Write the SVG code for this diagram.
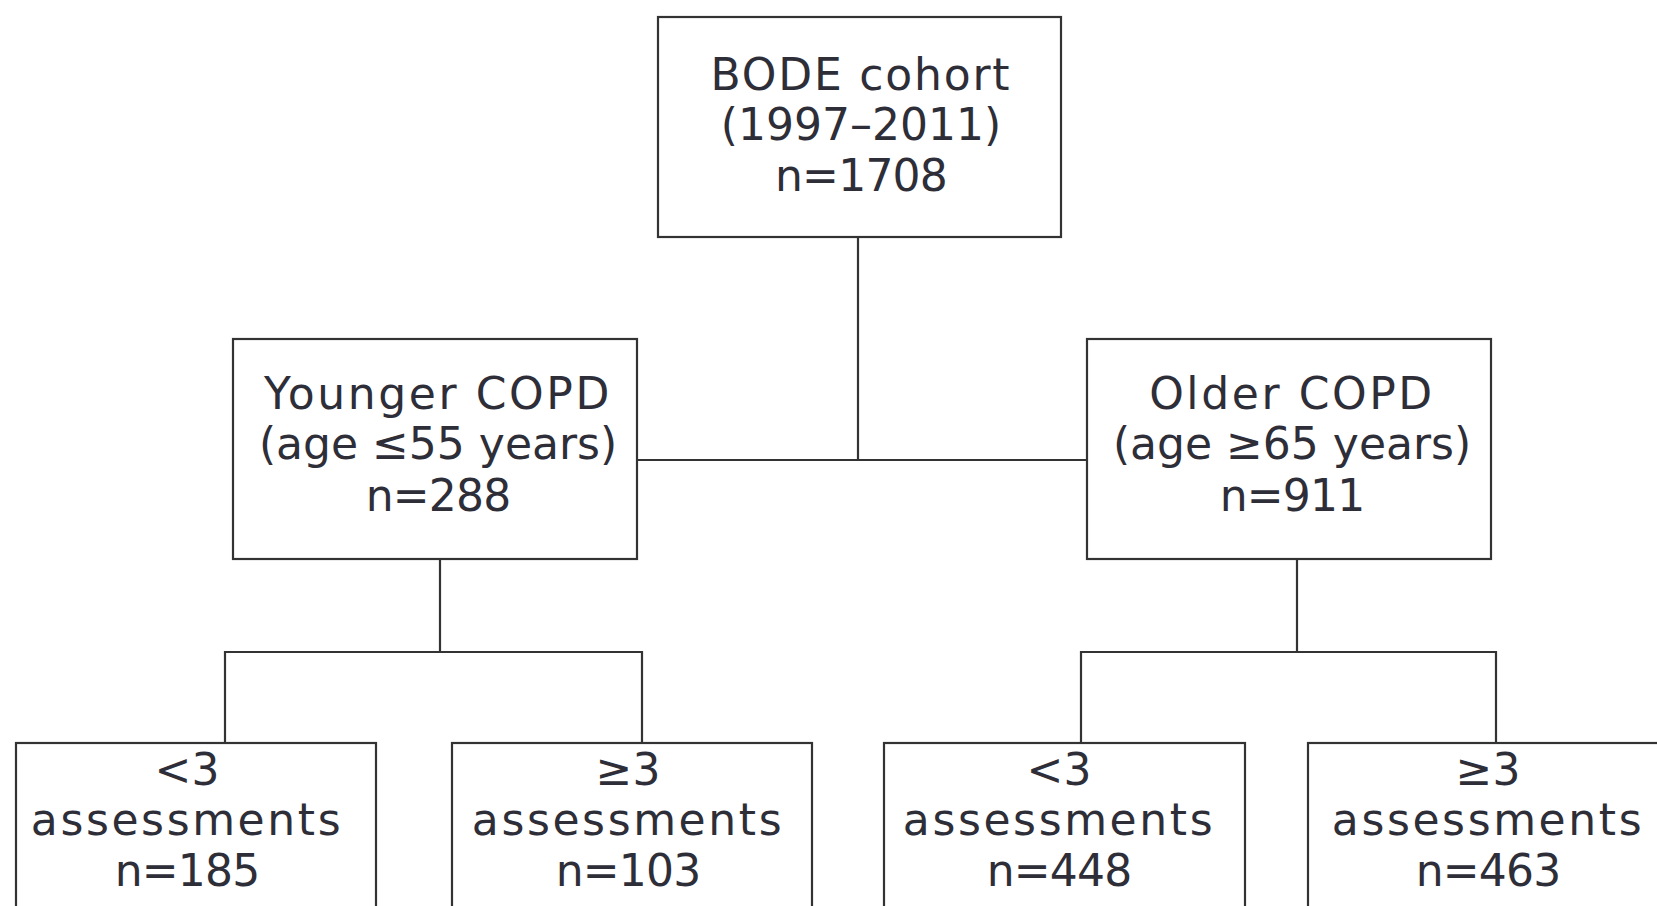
<svg xmlns="http://www.w3.org/2000/svg" width="1657" height="906" viewBox="0 0 1657 906">
<style>
.box{fill:#fff;stroke:#333;stroke-width:2.2}
.ln{fill:none;stroke:#333;stroke-width:2.2}
text{font-family:"DejaVu Sans","Noto Sans",sans-serif;font-size:44px;fill:#2e2e38;text-anchor:middle;letter-spacing:1.8px}
.w{letter-spacing:2.6px}
.d{letter-spacing:0px}
.n{letter-spacing:-0.8px}
</style>
<rect width="1657" height="906" fill="#fff"/>
<g id="connectors">
<path class="ln" d="M858 237V460M637 460H1087"/>
<path class="ln" d="M440 559V652M225 743V652H642V743"/>
<path class="ln" d="M1297 559V652M1081 743V652H1496V743"/>
</g>
<g id="n-bode">
<rect class="box" x="658" y="17" width="403" height="220"/>
<text x="861" y="90">BODE cohort</text>
<text class="d" x="861" y="140">(1997–2011)</text>
<text class="n" x="861" y="191">n=1708</text>
</g>
<g id="n-younger">
<rect class="box" x="233" y="339" width="404" height="220"/>
<text class="w" x="438" y="409">Younger COPD</text>
<text class="d" x="438" y="459">(age ≤55 years)</text>
<text class="n" x="438" y="511">n=288</text>
</g>
<g id="n-older">
<rect class="box" x="1087" y="339" width="404" height="220"/>
<text class="w" x="1292" y="409">Older COPD</text>
<text class="d" x="1292" y="459">(age ≥65 years)</text>
<text class="n" x="1292" y="511">n=911</text>
</g>
<g id="n-y-lt3">
<rect class="box" x="16" y="743" width="360" height="180"/>
<text class="d" x="187" y="785">&lt;3</text>
<text class="w" x="187" y="835">assessments</text>
<text class="n" x="187" y="886">n=185</text>
</g>
<g id="n-y-ge3">
<rect class="box" x="452" y="743" width="360" height="180"/>
<text class="d" x="628" y="785">≥3</text>
<text class="w" x="628" y="835">assessments</text>
<text class="n" x="628" y="886">n=103</text>
</g>
<g id="n-o-lt3">
<rect class="box" x="884" y="743" width="361" height="180"/>
<text class="d" x="1059" y="785">&lt;3</text>
<text class="w" x="1059" y="835">assessments</text>
<text class="n" x="1059" y="886">n=448</text>
</g>
<g id="n-o-ge3">
<rect class="box" x="1308" y="743" width="370" height="180"/>
<text class="d" x="1488" y="785">≥3</text>
<text class="w" x="1488" y="835">assessments</text>
<text class="n" x="1488" y="886">n=463</text>
</g>
</svg>
